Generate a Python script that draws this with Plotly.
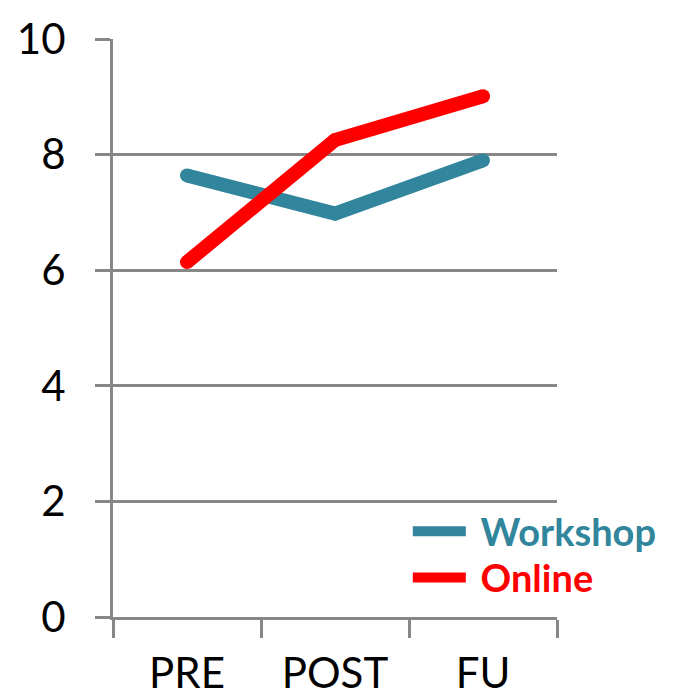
import plotly.graph_objects as go

categories = ["PRE", "POST", "FU"]
workshop = [7.64, 6.98, 7.90]
online = [6.14, 8.25, 9.01]
y_ticks = [0, 2, 4, 6, 8, 10]

teal = "#31859C"
red = "#FF0000"
grid = "#878787"
fnt = "Lato"
lw = 14

fig = go.Figure()
fig.add_trace(go.Scatter(x=categories, y=workshop, mode="lines", name="&nbsp;<b>Workshop</b>",
                         line=dict(color=teal, width=lw), legend="legend"))
fig.add_trace(go.Scatter(x=categories, y=workshop, mode="markers", showlegend=False, hoverinfo="skip",
                         marker=dict(color=teal, size=lw, line=dict(width=0))))
fig.add_trace(go.Scatter(x=categories, y=online, mode="lines", name="&nbsp;<b>Online</b>",
                         line=dict(color=red, width=lw), legend="legend2"))
fig.add_trace(go.Scatter(x=categories, y=online, mode="markers", showlegend=False, hoverinfo="skip",
                         marker=dict(color=red, size=lw, line=dict(width=0))))

fig.update_layout(
    width=673, height=697,
    margin=dict(l=113, r=116, t=39, b=80, autoexpand=False),
    plot_bgcolor="white", paper_bgcolor="white",
    font=dict(family=fnt, color="black"),
    showlegend=True,
    legend=dict(x=0.664, y=0.148, xanchor="left", yanchor="middle", bgcolor="rgba(0,0,0,0)",
                font=dict(family=fnt, size=38, color=teal), itemwidth=53),
    legend2=dict(x=0.664, y=0.068, xanchor="left", yanchor="middle", bgcolor="rgba(0,0,0,0)",
                 font=dict(family=fnt, size=38, color=red), itemwidth=53),
    xaxis=dict(type="category", range=[-0.5, 2.5], tickson="boundaries", ticks="outside",
               ticklen=18, tickwidth=3, tickcolor=grid, showline=True, linecolor=grid, linewidth=3,
               showgrid=False, ticklabelstandoff=18, automargin=False,
               tickfont=dict(size=42, color="black", family=fnt)),
    yaxis=dict(range=[0, 10], tickvals=y_ticks, showgrid=True, gridcolor=grid, gridwidth=3,
               ticks="outside", ticklen=15, tickwidth=3, tickcolor=grid, showline=True,
               linecolor=grid, linewidth=3, zeroline=False, ticklabelstandoff=21, automargin=False,
               tickfont=dict(size=42, color="black", family=fnt)),
)

fig.write_html("out.html")
